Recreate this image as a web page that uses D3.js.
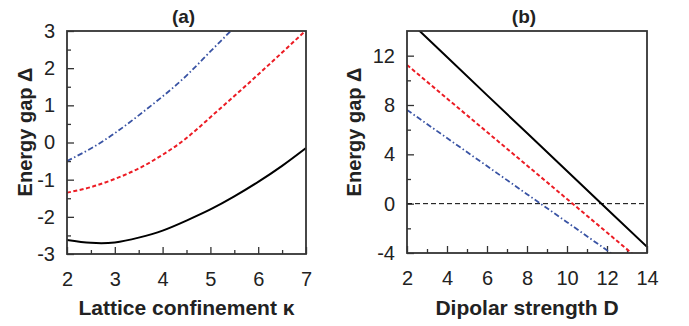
<!DOCTYPE html>
<html lang="en">
<head>
  <meta charset="UTF-8" />
  <title>Energy gap</title>
  <script src="https://d3js.org/d3.v7.min.js"></script>
  <style>
    body { margin: 0; background: #fff; }
    text { font-family: "Liberation Sans", Arial, sans-serif; fill: #222; }
  </style>
</head>
<body>
  <script>
    // Panel (a): energy gap vs lattice confinement kappa
    const kappa = [2, 2.5, 3, 3.5, 4, 4.5, 5, 5.5, 6, 6.5, 7];
    const gapSolidA = [-2.62, -2.70, -2.69, -2.56, -2.37, -2.10, -1.80, -1.45, -1.06, -0.63, -0.15];
    const gapDashedA = [-1.35, -1.20, -0.98, -0.70, -0.33, 0.12, 0.68, 1.25, 1.83, 2.42, 3.02];
    const gapDashDotA = [-0.50, -0.16, 0.25, 0.73, 1.24, 1.80, 2.45, 3.10, 3.80, 4.5, 5.2];

    // Panel (b): energy gap vs dipolar strength D
    const dipolar = [2, 4, 6, 8, 10, 12, 14];
    const gapSolidB = [14.97, 11.90, 8.80, 5.73, 2.65, -0.43, -3.50];
    const gapDashedB = [11.25, 8.53, 5.81, 3.10, 0.38, -2.34, -5.06];
    const gapDashDotB = [7.60, 5.32, 3.05, 0.77, -1.50, -3.78, -6.06];

    const ticksAx = [2, 3, 4, 5, 6, 7];
    const ticksAy = [-3, -2, -1, 0, 1, 2, 3];
    const ticksBx = [2, 4, 6, 8, 10, 12, 14];
    const ticksBy = [-4, 0, 4, 8, 12];

    const W = 689, H = 326;
    const svg = d3.select('body').append('svg')
      .attr('width', W)
      .attr('height', H);

    const styles = {
      solid: { color: '#000', dash: null, width: 2 },
      dashed: { color: '#ec1c24', dash: '4,2.5', width: 2 },
      dashdot: { color: '#3953a4', dash: '5.5,2.5,1.5,2.5', width: 1.8 }
    };

    function panel(opt) {
      const g = svg.append('g');
      const x = d3.scaleLinear().domain(opt.xDomain).range([opt.left, opt.right]);
      const y = d3.scaleLinear().domain(opt.yDomain).range([opt.bottom, opt.top]);

      g.append('clipPath').attr('id', 'clip-' + opt.id)
        .append('rect')
        .attr('x', opt.left).attr('y', opt.top)
        .attr('width', opt.right - opt.left).attr('height', opt.bottom - opt.top);

      // minor + major ticks, pointing inward, left and bottom only
      const xAxis = d3.axisBottom(x).tickValues(opt.xMinor).tickSize(-4).tickFormat('');
      const yAxis = d3.axisLeft(y).tickValues(opt.yMinor).tickSize(-4).tickFormat('');
      g.append('g').attr('transform', `translate(0,${opt.bottom})`).call(xAxis);
      g.append('g').attr('transform', `translate(${opt.left},0)`).call(yAxis);

      const fmt = d => String(d);
      const xMaj = d3.axisBottom(x).tickValues(opt.xTicks).tickSize(-7).tickPadding(18).tickFormat(fmt);
      const yMaj = d3.axisLeft(y).tickValues(opt.yTicks).tickSize(-7).tickPadding(12).tickFormat(fmt);
      g.append('g').attr('transform', `translate(0,${opt.bottom})`).call(xMaj);
      g.append('g').attr('transform', `translate(${opt.left},0)`).call(yMaj);

      g.selectAll('.domain').remove();
      g.selectAll('.tick line').attr('stroke', '#333').attr('stroke-width', 1.3);
      g.selectAll('.tick text')
        .attr('font-size', 20)
        .attr('fill', '#222')
        .attr('font-family', '"Liberation Sans", Arial, sans-serif');

      const plot = g.append('g').attr('clip-path', `url(#clip-${opt.id})`);

      if (opt.zeroLine) {
        plot.append('line')
          .attr('x1', x(opt.xDomain[0])).attr('x2', x(opt.xDomain[1]))
          .attr('y1', y(0)).attr('y2', y(0))
          .attr('stroke', '#000').attr('stroke-width', 1)
          .attr('stroke-dasharray', '5,3');
      }

      opt.series.forEach(s => {
        const st = styles[s.style];
        const line = d3.line().curve(opt.curve)
          .x((d, i) => x(opt.xs[i]))
          .y(d => y(d));
        plot.append('path')
          .datum(s.values)
          .attr('d', line)
          .attr('fill', 'none')
          .attr('stroke', st.color)
          .attr('stroke-width', st.width)
          .attr('stroke-dasharray', st.dash);
      });

      // frame
      g.append('rect')
        .attr('x', opt.left).attr('y', opt.top)
        .attr('width', opt.right - opt.left).attr('height', opt.bottom - opt.top)
        .attr('fill', 'none').attr('stroke', '#333').attr('stroke-width', 1.8);

      g.append('text')
        .attr('x', (opt.left + opt.right) / 2 - 3).attr('y', 23)
        .attr('text-anchor', 'middle')
        .attr('font-size', 19).attr('font-weight', 'bold')
        .text(opt.title);

      g.append('text')
        .attr('x', (opt.left + opt.right) / 2).attr('y', 315)
        .attr('text-anchor', 'middle')
        .attr('font-size', 21).attr('font-weight', 'bold')
        .text(opt.xLabel);

      g.append('text')
        .attr('transform', `translate(${opt.yLabelX},${132}) rotate(-90)`)
        .attr('text-anchor', 'middle')
        .attr('font-size', 20).attr('font-weight', 'bold')
        .text('Energy gap Δ');
    }

    panel({
      id: 'a', title: '(a)', xLabel: 'Lattice confinement κ',
      left: 67, right: 306, top: 31, bottom: 254, yLabelX: 32,
      xDomain: [2, 7], yDomain: [-3, 3],
      xTicks: ticksAx, yTicks: ticksAy,
      xMinor: d3.range(2.5, 7, 1), yMinor: d3.range(-2.5, 3, 1),
      xs: kappa, curve: d3.curveNatural,
      series: [
        { values: gapSolidA, style: 'solid' },
        { values: gapDashedA, style: 'dashed' },
        { values: gapDashDotA, style: 'dashdot' }
      ]
    });

    panel({
      id: 'b', title: '(b)', xLabel: 'Dipolar strength D',
      left: 407, right: 647, top: 31, bottom: 253, yLabelX: 361, zeroLine: true,
      xDomain: [2, 14], yDomain: [-4, 14],
      xTicks: ticksBx, yTicks: ticksBy,
      xMinor: d3.range(3, 14, 2), yMinor: d3.range(-2, 14, 4),
      xs: dipolar, curve: d3.curveLinear,
      series: [
        { values: gapSolidB, style: 'solid' },
        { values: gapDashedB, style: 'dashed' },
        { values: gapDashDotB, style: 'dashdot' }
      ]
    });
  </script>
</body>
</html>
